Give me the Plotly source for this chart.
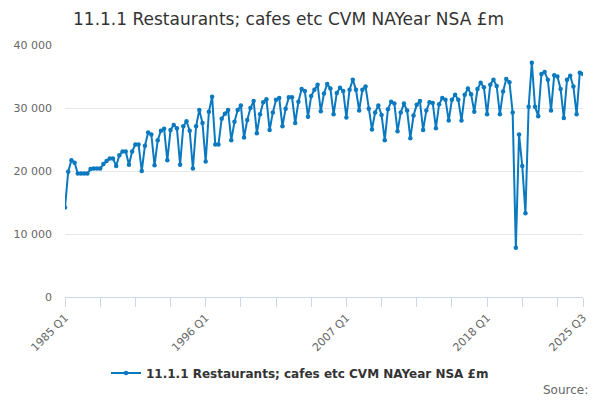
import plotly.graph_objects as go

# Quarterly values, 1985 Q1 to 2025 Q3 (£m)
values = [
    14200, 19900, 21700, 21300, 19600, 19600, 19600, 19600,
    20300, 20400, 20400, 20400, 21100, 21600, 22000, 22000,
    20800, 22500, 23100, 23100, 21000, 23100, 24200, 24200,
    20000, 24000, 26100, 25800, 20900, 24900, 26400, 26700,
    21700, 26500, 27300, 26800, 21000, 27100, 27900, 26400,
    20400, 27100, 29700, 27600, 21500, 29400, 31800, 24200,
    24200, 28300, 29100, 29700, 24900, 27800, 29700, 30400,
    25300, 28100, 30000, 31100, 26000, 29000, 30900, 31400,
    26500, 29300, 31300, 31600, 27100, 29900, 31700, 31700,
    27600, 31000, 33000, 32700, 28600, 31900, 32900, 33700,
    29500, 32300, 33800, 33100, 29000, 32400, 33200, 32700,
    28500, 32900, 34500, 32900, 29600, 32900, 33400, 29900,
    26600, 29300, 30400, 28900, 24900, 29800, 31000, 30700,
    26300, 29300, 30700, 29600, 25200, 28800, 30500, 31100,
    26500, 29600, 30900, 30800, 26800, 30600, 31600, 31300,
    28000, 31300, 32100, 31300, 28000, 32100, 33100, 32200,
    29400, 33000, 34000, 33300, 29000, 33700, 34500, 33500,
    29000, 32600, 34600, 34100, 29300, 7800, 25800, 20800,
    13300, 30200, 37200, 30200, 28700, 35400, 35700, 34500,
    29600, 35200, 35000, 33000, 28400, 34500, 35100, 33400,
    29000, 35600, 35400,
]
start_year = 1985
quarters = [f"{start_year + i // 4} Q{i % 4 + 1}" for i in range(len(values))]

series_name = "11.1.1 Restaurants; cafes etc CVM NAYear NSA £m"
label_quarters = ["1985 Q1", "1996 Q1", "2007 Q1", "2018 Q1", "2025 Q3"]
y_ticks = [0, 10000, 20000, 30000, 40000]

# tick marks every 11 quarters, labels only on a few of them
tick_vals = quarters[::11] + [quarters[-1]]
tick_text = [q if q in label_quarters else "" for q in tick_vals]

blue = "#0a79bf"
W, H = 600, 400
off = 8  # the page body shifts the figure by ~8px

fig = go.Figure()
fig.add_trace(
    go.Scatter(
        x=quarters,
        y=values,
        mode="lines+markers",
        name=series_name,
        line=dict(color=blue, width=2),
        marker=dict(color=blue, size=4.5),
    )
)

fig.update_layout(
    width=W,
    height=H,
    font=dict(family="DejaVu Sans", color="#666666"),
    separators=". ",
    title=dict(
        text=series_name,
        xref="container",
        x=(73 - off) / W,
        xanchor="left",
        yref="container",
        y=1 - (19 - off) / H,
        yanchor="middle",
        font=dict(size=17, color="#333333"),
    ),
    margin=dict(l=65 - off, r=W - (583 - off), t=45 - off, b=H - (297 - off), autoexpand=False),
    paper_bgcolor="white",
    plot_bgcolor="white",
    showlegend=True,
    legend=dict(
        orientation="h",
        x=(300 - off) / W,
        xref="container",
        xanchor="center",
        yref="container",
        y=1 - (373 - off) / H,
        yanchor="middle",
        itemwidth=30,
        font=dict(size=12, color="#333333", weight="bold"),
    ),
    xaxis=dict(
        type="category",
        range=[0, len(values) - 1],
        tickmode="array",
        tickvals=tick_vals,
        ticktext=tick_text,
        tickangle=-45,
        ticks="outside",
        ticklen=9,
        tickcolor="#ccd6eb",
        showline=True,
        linecolor="#ccd6eb",
        showgrid=False,
        automargin=False,
        tickfont=dict(size=11, color="#666666"),
    ),
    yaxis=dict(
        range=[0, 40000],
        tickvals=y_ticks,
        tickformat=",d",
        showgrid=True,
        gridcolor="#e6e6e6",
        zeroline=False,
        ticks="",
        ticklabelstandoff=12,
        automargin=False,
        tickfont=dict(size=11, color="#666666"),
    ),
)

fig.add_annotation(
    text="Source:",
    xref="paper",
    yref="paper",
    x=(590 - 65) / 518,
    y=(297 - 390) / 252,
    xanchor="right",
    yanchor="middle",
    showarrow=False,
    font=dict(size=12, color="#666666"),
)

fig.write_html("out.html")
